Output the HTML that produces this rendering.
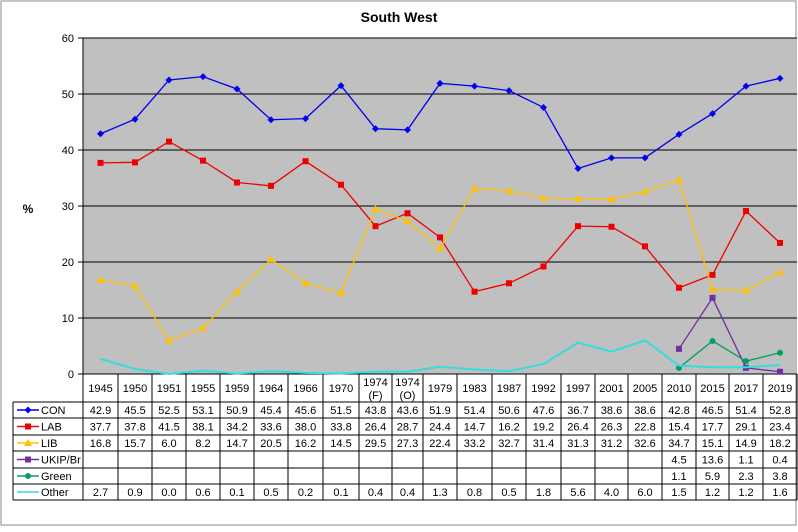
<!DOCTYPE html>
<html><head><meta charset="utf-8"><style>
html,body{margin:0;padding:0;background:#fff;}
svg{display:block;font-family:"Liberation Sans",Arial,sans-serif;}
</style></head><body>
<svg id="s" width="798" height="532" xmlns="http://www.w3.org/2000/svg"></svg>
<script>
const B=[83,118,152,186,220,254,288,323,359,392,423,457,492,526,561,595,628,662,696,729,763,797];
const yrs=["1945","1950","1951","1955","1959","1964","1966","1970","1974|(F)","1974|(O)","1979","1983","1987","1992","1997","2001","2005","2010","2015","2017","2019"];
const S=[
["CON","#0000ee","d",[42.9,45.5,52.5,53.1,50.9,45.4,45.6,51.5,43.8,43.6,51.9,51.4,50.6,47.6,36.7,38.6,38.6,42.8,46.5,51.4,52.8]],
["LAB","#ee0000","s",[37.7,37.8,41.5,38.1,34.2,33.6,38.0,33.8,26.4,28.7,24.4,14.7,16.2,19.2,26.4,26.3,22.8,15.4,17.7,29.1,23.4]],
["LIB","#ffc000","t",[16.8,15.7,6.0,8.2,14.7,20.5,16.2,14.5,29.5,27.3,22.4,33.2,32.7,31.4,31.3,31.2,32.6,34.7,15.1,14.9,18.2]],
["UKIP/Br","#7030a0","s",[null,null,null,null,null,null,null,null,null,null,null,null,null,null,null,null,null,4.5,13.6,1.1,0.4]],
["Green","#00a060","c",[null,null,null,null,null,null,null,null,null,null,null,null,null,null,null,null,null,1.1,5.9,2.3,3.8]],
["Other","#33dddd","n",[2.7,0.9,0.0,0.6,0.1,0.5,0.2,0.1,0.4,0.4,1.3,0.8,0.5,1.8,5.6,4.0,6.0,1.5,1.2,1.2,1.6]]];
let h='';
const L=83,R=797,T=38,Bt=374,Y=v=>Bt-v*5.6;
h+=`<rect x="1" y="1" width="795" height="524" fill="#fff" stroke="#888"/>`;
h+=`<text x="399" y="22" font-size="14" font-weight="bold" text-anchor="middle">South West</text>`;
h+=`<rect x="${L}" y="${T}" width="${R-L}" height="${Bt-T}" fill="#c0c0c0"/>`;
for(let v=0;v<=60;v+=10){h+=`<line x1="${L}" x2="${R}" y1="${Y(v)}" y2="${Y(v)}" stroke="#000" stroke-width="1"/>`;
h+=`<line x1="${L-5}" x2="${L}" y1="${Y(v)}" y2="${Y(v)}" stroke="#000"/>`;
h+=`<text x="${L-9}" y="${Y(v)+4}" font-size="11" text-anchor="end">${v}</text>`;}
h+=`<line x1="${L}" x2="${L}" y1="${T}" y2="${Bt}" stroke="#000"/>`;
h+=`<text x="28" y="213" font-size="12" font-weight="bold" text-anchor="middle">%</text>`;
const cx=i=>(B[i]+B[i+1])/2;
function mk(t,x,y,c){
 if(t=="d")return `<path d="M${x} ${y-3.5}L${x+3.5} ${y}L${x} ${y+3.5}L${x-3.5} ${y}Z" fill="${c}"/>`;
 if(t=="s")return `<rect x="${x-3}" y="${y-3}" width="6" height="6" fill="${c}"/>`;
 if(t=="t")return `<path d="M${x} ${y-4}L${x+4} ${y+3}L${x-4} ${y+3}Z" fill="${c}"/>`;
 if(t=="c")return `<circle cx="${x}" cy="${y}" r="3" fill="${c}"/>`;
 return '';}
for(const [n,c,t,d] of S){let p=[];d.forEach((v,i)=>{if(v!=null)p.push([cx(i),Y(v)])});
 h+=`<polyline points="${p.map(q=>q.join(',')).join(' ')}" fill="none" stroke="${c}" stroke-width="${t=='n'?2:1.3}"/>`;
 p.forEach(q=>h+=mk(t,q[0],q[1],c));}
// table
const rows=[374,402,418,435,451,468,484,500];
for(let i=0;i<B.length;i++)h+=`<line x1="${B[i]}" x2="${B[i]}" y1="374" y2="500" stroke="#000"/>`;
h+=`<line x1="13" x2="13" y1="402" y2="500" stroke="#000"/>`;
for(let j=1;j<rows.length;j++)h+=`<line x1="13" x2="${R}" y1="${rows[j]}" y2="${rows[j]}" stroke="#000"/>`;
yrs.forEach((y,i)=>{const p=y.split('|');if(p.length==1)h+=`<text x="${cx(i)}" y="392" font-size="11" text-anchor="middle">${y}</text>`;
 else h+=`<text x="${cx(i)}" y="386" font-size="11" text-anchor="middle">${p[0]}</text><text x="${cx(i)}" y="399" font-size="11" text-anchor="middle">${p[1]}</text>`;});
S.forEach(([n,c,t,d],j)=>{const ym=(rows[j+1]+rows[j+2])/2;
 h+=`<line x1="17" x2="39" y1="${ym}" y2="${ym}" stroke="${c}" stroke-width="1.5"/>`+mk(t,28,ym,c);
 h+=`<text x="41" y="${ym+4}" font-size="11">${n}</text>`;
 d.forEach((v,i)=>{if(v!=null)h+=`<text x="${cx(i)}" y="${ym+4}" font-size="11" text-anchor="middle">${v.toFixed(1)}</text>`;});});
document.getElementById('s').innerHTML=h;
</script>
</body></html>
